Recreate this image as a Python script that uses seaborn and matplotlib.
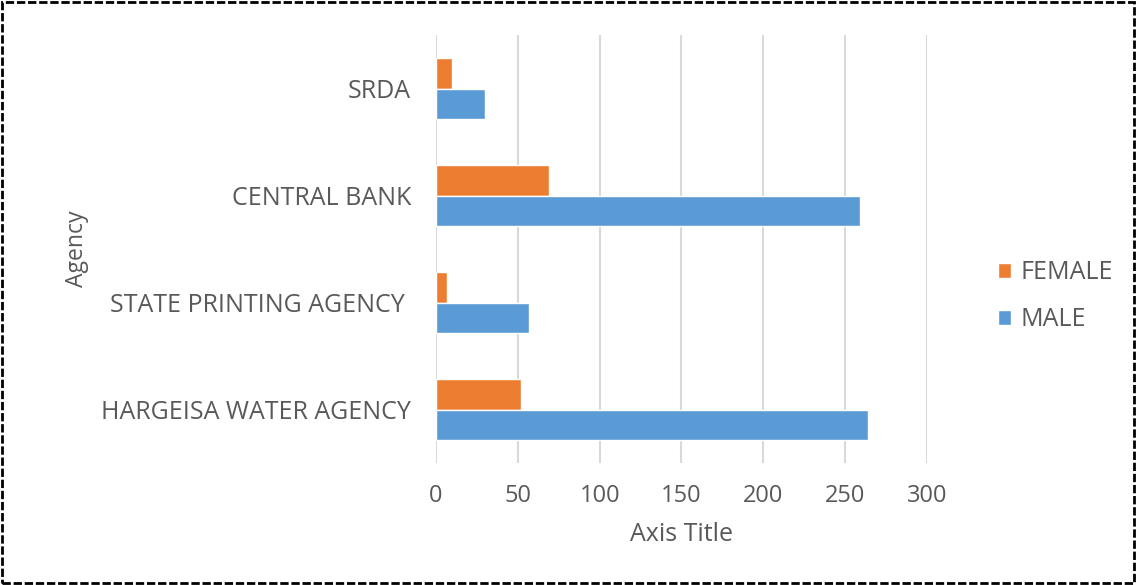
import pandas as pd
import matplotlib
matplotlib.use("Agg")
import matplotlib.pyplot as plt
import seaborn as sns
from matplotlib.patches import Rectangle

# ---------------------------------------------------
# DATA
# ---------------------------------------------------

agencies = ["SRDA", "CENTRAL BANK", "STATE PRINTING AGENCY ", "HARGEISA WATER AGENCY"]
female = [10, 69, 7, 52]
male = [30, 259, 57, 264]
x_ticks = [0, 50, 100, 150, 200, 250, 300]

ORANGE = "#ED7D31"
BLUE = "#5B9BD5"
TEXT_GRAY = "#595959"
GRID_GRAY = "#D9D9D9"

df = pd.DataFrame({
    "Agency": agencies * 2,
    "Count": female + male,
    "Sex": ["FEMALE"] * len(agencies) + ["MALE"] * len(agencies),
})

sns.set_style("white")
plt.rcParams["font.family"] = ["Open Sans", "DejaVu Sans"]

fig = plt.figure(figsize=(11.36, 5.85), dpi=100)
ax = fig.add_axes([0.3838, 0.2085, 0.4322, 0.7315])

sns.barplot(
    data=df, y="Agency", x="Count", hue="Sex", orient="h",
    order=agencies, hue_order=["FEMALE", "MALE"],
    palette={"FEMALE": ORANGE, "MALE": BLUE},
    width=0.57, saturation=1, ax=ax, zorder=3,
)

ax.set_xlim(0, 300)
ax.set_ylim(3.5, -0.5)
ax.set_xticks(x_ticks)
ax.xaxis.grid(True, color=GRID_GRAY, linewidth=1.5, zorder=0)
ax.yaxis.grid(False)
for s in ax.spines.values():
    s.set_visible(False)

ax.tick_params(axis="both", length=0, labelcolor=TEXT_GRAY)
ax.tick_params(axis="y", pad=18, labelsize=18)
ax.tick_params(axis="x", pad=15, labelsize=17)

ax.set_xlabel("Axis Title", fontsize=18, color=TEXT_GRAY, labelpad=10)
ax.set_ylabel("Agency", fontsize=16.5, color=TEXT_GRAY, labelpad=9)

handles, labels = ax.get_legend_handles_labels()
ax.legend(
    handles, labels, loc="center left", bbox_to_anchor=(1.098, 0.39),
    frameon=False, fontsize=18, labelcolor=TEXT_GRAY,
    handlelength=0.55, handleheight=0.55, labelspacing=0.9, handletextpad=0.35,
)

# dashed border around the whole picture
fig.patches.append(Rectangle(
    (0.002, 0.003), 0.996, 0.994, transform=fig.transFigure,
    fill=False, edgecolor="black", linestyle=(0, (3, 1)), linewidth=2,
))

fig.savefig("out.png", dpi=100)
